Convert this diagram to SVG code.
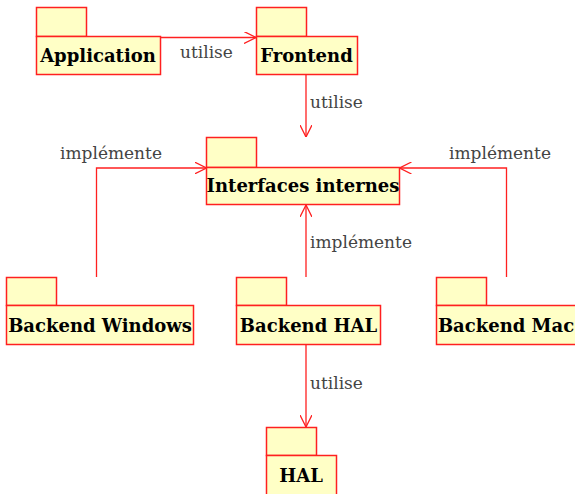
<svg xmlns="http://www.w3.org/2000/svg" width="575" height="494" viewBox="0 0 575 494">
<style>
.pk{fill:#ffffc6;stroke:#ff2020;stroke-width:1.5}
.nm{font-family:"DejaVu Serif",serif;font-weight:bold;font-size:18px;fill:#000;text-anchor:middle}
.lb{font-family:"DejaVu Serif",serif;font-size:17px;fill:#444}
.cn{fill:none;stroke:#ff2020;stroke-width:1.3}
</style>
<defs>
<marker id="ar" viewBox="0 0 12 12" refX="12" refY="6" markerWidth="12" markerHeight="12" markerUnits="userSpaceOnUse" orient="auto">
<path d="M0,0 L12,6 L0,12" fill="none" stroke="#ff2020" stroke-width="1.3"/>
</marker>
</defs>
<rect width="575" height="494" fill="#fff"/>
<g id="connectors">
<line class="cn" x1="160" y1="37.5" x2="256" y2="37.5" marker-end="url(#ar)"/>
<line class="cn" x1="306" y1="74" x2="306" y2="137" marker-end="url(#ar)"/>
<polyline class="cn" points="96.5,277 96.5,168 206.5,168" marker-end="url(#ar)"/>
<polyline class="cn" points="506.5,277 506.5,168 399.5,168" marker-end="url(#ar)"/>
<line class="cn" x1="306" y1="277" x2="306" y2="205" marker-end="url(#ar)"/>
<line class="cn" x1="306" y1="344" x2="306" y2="427" marker-end="url(#ar)"/>
<text class="lb" x="180" y="58">utilise</text>
<text class="lb" x="310" y="108">utilise</text>
<text class="lb" x="60" y="159">implémente</text>
<text class="lb" x="449" y="159">implémente</text>
<text class="lb" x="310" y="248">implémente</text>
<text class="lb" x="310" y="389">utilise</text>
</g>
<g id="application">
<rect class="pk" x="36.5" y="7.5" width="50" height="29"/>
<rect class="pk" x="36.5" y="36.5" width="124" height="38"/>
<text class="nm" x="98" y="62">Application</text>
</g>
<g id="frontend">
<rect class="pk" x="256.5" y="7.5" width="50" height="29"/>
<rect class="pk" x="256.5" y="36.5" width="101" height="38"/>
<text class="nm" x="306.5" y="62">Frontend</text>
</g>
<g id="interfaces">
<rect class="pk" x="206.5" y="137.5" width="50" height="30"/>
<rect class="pk" x="206.5" y="167.5" width="193" height="37"/>
<text class="nm" x="303" y="192">Interfaces internes</text>
</g>
<g id="backend-windows">
<rect class="pk" x="6.5" y="277.5" width="50" height="28"/>
<rect class="pk" x="6.5" y="305.5" width="187" height="39"/>
<text class="nm" x="100" y="332">Backend Windows</text>
</g>
<g id="backend-hal">
<rect class="pk" x="236.5" y="277.5" width="50" height="28"/>
<rect class="pk" x="236.5" y="305.5" width="144" height="39"/>
<text class="nm" x="308.5" y="332">Backend HAL</text>
</g>
<g id="backend-mac">
<rect class="pk" x="436.5" y="277.5" width="50" height="28"/>
<rect class="pk" x="436.5" y="305.5" width="142" height="39"/>
<text class="nm" x="506" y="332">Backend Mac</text>
</g>
<g id="hal">
<rect class="pk" x="266.5" y="427.5" width="50" height="28"/>
<rect class="pk" x="266.5" y="455.5" width="70" height="42"/>
<text class="nm" x="301" y="482">HAL</text>
</g>
</svg>
